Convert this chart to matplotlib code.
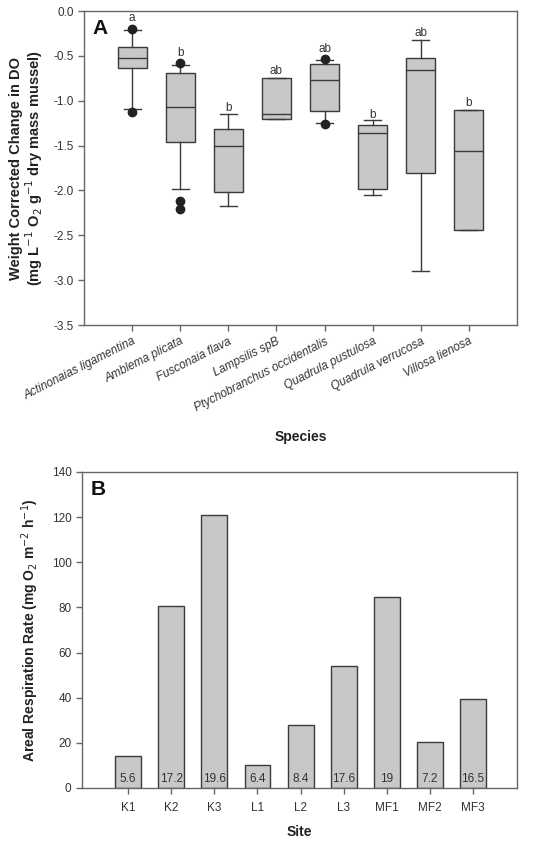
import matplotlib
matplotlib.use("Agg")
import matplotlib.pyplot as plt

plt.rcParams['font.family'] = ['Liberation Sans', 'DejaVu Sans']

# ---------------- Panel A data ----------------
species = ["Actinonaias ligamentina", "Amblema plicata", "Fusconaia flava", "Lampsilis spB",
           "Ptychobranchus occidentalis", "Quadrula pustulosa", "Quadrula verrucosa", "Villosa lienosa"]
whishi = [-0.21, -0.60, -1.15, -0.75, -0.55, -1.215, -0.32, -1.10]
q3 = [-0.405, -0.69, -1.32, -0.75, -0.59, -1.275, -0.52, -1.10]
med = [-0.52, -1.07, -1.50, -1.15, -0.77, -1.36, -0.655, -1.56]
q1 = [-0.63, -1.46, -2.02, -1.20, -1.11, -1.98, -1.81, -2.44]
whislo = [-1.09, -1.98, -2.17, -1.20, -1.25, -2.055, -2.90, -2.44]
fliers = [[-0.20, -1.13], [-0.58, -2.12, -2.21], [], [], [-0.54, -1.26], [], [], []]
letters = ["a", "b", "b", "ab", "ab", "b", "ab", "b"]
letter_y = [-0.08, -0.465, -1.085, -0.67, -0.42, -1.16, -0.24, -1.03]

# ---------------- Panel B data ----------------
sites = ["K1", "K2", "K3", "L1", "L2", "L3", "MF1", "MF2", "MF3"]
rates = [14.2, 80.8, 121.1, 10.2, 28.0, 54.2, 84.5, 20.4, 39.4]
temps = ["5.6", "17.2", "19.6", "6.4", "8.4", "17.6", "19", "7.2", "16.5"]

W, H = 546, 843
fig = plt.figure(figsize=(W / 100, H / 100), dpi=100)

tick_color = "#333333"
spine_color = "#666666"
box_face = "#c8c8c8"
edge = "#3a3a3a"

def style_axes(ax):
    for s in ax.spines.values():
        s.set_color(spine_color)
        s.set_linewidth(1.0)
    ax.tick_params(axis='both', colors=spine_color, labelcolor=tick_color,
                   labelsize=8.5, length=4, width=1.0, direction='out')

# Panel A
axA = fig.add_axes([84 / W, 1 - 325 / H, (517 - 84) / W, (325 - 11) / H])
stats = []
for i in range(len(species)):
    stats.append(dict(med=med[i], q1=q1[i], q3=q3[i], whislo=whislo[i], whishi=whishi[i],
                      fliers=fliers[i], label=species[i]))
positions = list(range(1, len(species) + 1))
axA.bxp(stats, positions=positions, widths=0.6, capwidths=0.35, patch_artist=True,
        showfliers=True,
        boxprops=dict(facecolor=box_face, edgecolor=edge, linewidth=1.0),
        medianprops=dict(color=edge, linewidth=1.0),
        whiskerprops=dict(color=edge, linewidth=1.0),
        capprops=dict(color=edge, linewidth=1.0),
        flierprops=dict(marker='o', markerfacecolor='#222222', markeredgecolor='#222222',
                        markersize=6))
for p, t, y in zip(positions, letters, letter_y):
    axA.text(p, y, t, ha='center', va='center', fontsize=8.5, color=tick_color)
axA.set_xlim(0, 9)
axA.set_ylim(-3.5, 0.0)
axA.set_yticks([0.0, -0.5, -1.0, -1.5, -2.0, -2.5, -3.0, -3.5])
axA.set_yticklabels(["0.0", "-0.5", "-1.0", "-1.5", "-2.0", "-2.5", "-3.0", "-3.5"])
axA.set_xticks(positions)
axA.set_xticklabels(species, rotation=27, ha='right', rotation_mode='anchor',
                    fontstyle='italic', fontsize=8.5)
style_axes(axA)
axA.set_xlabel("Species", fontsize=10, fontweight='bold', color='#222222', labelpad=12)
axA.set_ylabel("Weight Corrected Change in DO\n(mg L$^{-1}$ O$_2$ g$^{-1}$ dry mass mussel)",
               fontsize=10.5, fontweight='bold', color='#222222', labelpad=6, linespacing=1.0)
axA.text(0.02, 0.975, "A", transform=axA.transAxes, fontsize=15, fontweight='bold',
         va='top', ha='left', color='#111111')

# Panel B
axB = fig.add_axes([82 / W, 1 - 788 / H, (517 - 82) / W, (788 - 472) / H])
xb = list(range(1, len(sites) + 1))
axB.bar(xb, rates, width=0.6, color=box_face, edgecolor=edge, linewidth=1.0)
for x, t in zip(xb, temps):
    axB.text(x, 3.8, t, ha='center', va='center', fontsize=8.5, color=tick_color)
axB.set_xlim(-0.07, 10.02)
axB.set_ylim(0, 140)
axB.set_yticks(range(0, 141, 20))
axB.set_xticks(xb)
axB.set_xticklabels(sites)
style_axes(axB)
axB.tick_params(axis='x', pad=6)
axB.set_xlabel("Site", fontsize=10, fontweight='bold', color='#222222', labelpad=8)
axB.set_ylabel("Areal Respiration Rate (mg O$_2$ m$^{-2}$ h$^{-1}$)", fontsize=10,
               fontweight='bold', color='#222222', labelpad=8)
axB.text(0.02, 0.975, "B", transform=axB.transAxes, fontsize=15, fontweight='bold',
         va='top', ha='left', color='#111111')

fig.savefig("out.png", dpi=100)
